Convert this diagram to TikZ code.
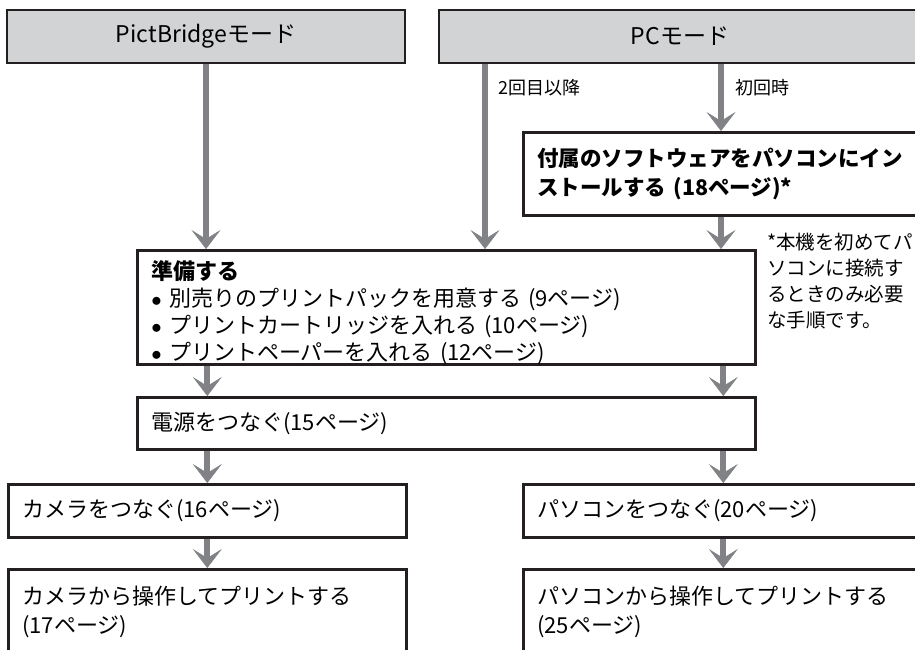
\documentclass[tikz,border=0pt]{standalone}
\usepackage{fontspec}
\setmainfont{Noto Sans CJK JP}
\usepackage{tikz}
\usetikzlibrary{arrows.meta}

\definecolor{modegray}{HTML}{D1D3D4}
\definecolor{flowgray}{HTML}{808285}
\definecolor{edgeblack}{HTML}{231F20}

\begin{document}
\begin{tikzpicture}[x=1pt, y=-1pt,
        mode/.style={draw=edgeblack, line width=2.6pt, fill=modegray, inner sep=0pt, minimum height=53pt, font=\fontsize{23}{28}\selectfont},
        stepbox/.style={draw=edgeblack, line width=2.6pt, fill=white, anchor=north west, align=left, inner xsep=14pt, inner ysep=0pt, font=\fontsize{22}{29}\selectfont},
        flow/.style={draw=flowgray, line width=6pt, -{Stealth[length=19pt, width=29pt, inset=9pt, line width=0.5pt]}},
        tag/.style={anchor=west, inner sep=0pt, font=\fontsize{18}{20}\selectfont}]
        \useasboundingbox (0, 0) rectangle (915, 650);
        \clip (0, 0) rectangle (915, 650);
        \fill[white] (0, 0) rectangle (915, 650);

        \node[mode, minimum width=482pt] (pc) at (680, 36.5) {PCモード};
        \node[mode, minimum width=398pt] (pb) at (206, 36.5) {PictBridgeモード};

        \node[stepbox, text width=392pt, minimum height=83pt, font=\fontsize{21.5}{29}\selectfont\bfseries] (install) at (522, 131)
            {付属のソフトウェアをパソコンにイン\\ストールする (18ページ)*};
        \node[stepbox, text width=590pt, minimum height=113pt, font=\fontsize{22}{27}\selectfont] (prep) at (136, 249)
            {\rule{0pt}{29pt}\textbf{準備する}\\
             $\bullet$\ 別売りのプリントパックを用意する (9ページ)\\
             $\bullet$\ プリントカートリッジを入れる (10ページ)\\
             $\bullet$\ プリントペーパーを入れる (12ページ)};
        \node[stepbox, text width=590pt, minimum height=52pt] (power) at (136, 396) {電源をつなぐ(15ページ)};
        \node[stepbox, text width=370pt, minimum height=53pt] (camera) at (7, 483) {カメラをつなぐ(16ページ)};
        \node[stepbox, text width=372pt, minimum height=53pt] (pcconn) at (522, 483) {パソコンをつなぐ(20ページ)};
        \node[stepbox, text width=370pt, minimum height=85pt] (camprint) at (7, 568)
            {カメラから操作してプリントする\\(17ページ)};
        \node[stepbox, text width=372pt, minimum height=85pt] (pcprint) at (522, 568)
            {パソコンから操作してプリントする\\(25ページ)};

        \node[tag] (later) at (498, 88) {2回目以降};
        \node[tag] (first) at (735, 88) {初回時};
        \node[anchor=west, align=left, inner sep=0pt, font=\fontsize{19.5}{26}\selectfont] (note) at (767, 281)
            {*本機を初めてパ\\ソコンに接続す\\るときのみ必要\\な手順です。};

        \coordinate (laterx) at (485, 0);
        \coordinate (firstx) at (721, 0);

        \draw[flow] (pb.south) to (pb.south |- prep.north);
        \draw[flow] (laterx |- pc.south) to (laterx |- prep.north);
        \draw[flow] (firstx |- pc.south) to (firstx |- install.north);
        \draw[flow] (firstx |- install.south) to (firstx |- prep.north);
        \draw[flow] (camera.north |- prep.south) to (camera.north |- power.north);
        \draw[flow] (pcconn.north |- prep.south) to (pcconn.north |- power.north);
        \draw[flow] (camera.north |- power.south) to (camera.north);
        \draw[flow] (pcconn.north |- power.south) to (pcconn.north);
        \draw[flow] (camera.south) to (camprint.north);
        \draw[flow] (pcconn.south) to (pcprint.north);
    \end{tikzpicture}
\end{document}
